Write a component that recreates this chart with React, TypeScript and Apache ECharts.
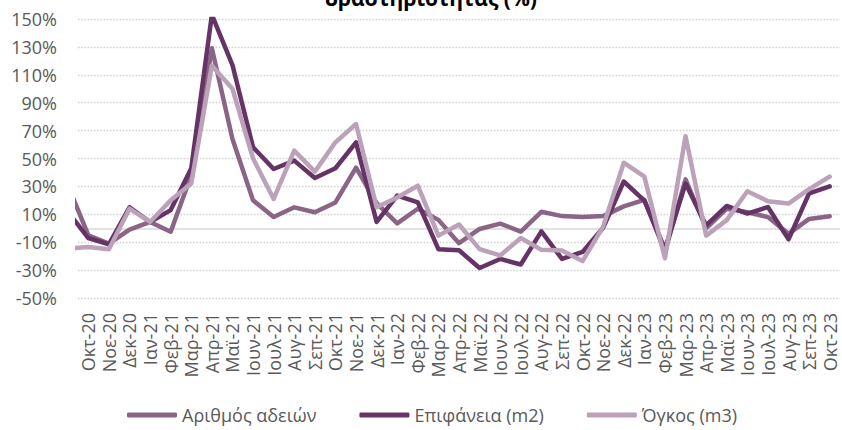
import React, { useEffect, useRef } from "react";
import * as echarts from "echarts";

// First entry (Σεπ-20) lies just left of the plot area and is only visible as the clipped segment.
const categories = [
  "Σεπ-20",
  "Οκτ-20", "Νοε-20", "Δεκ-20", "Ιαν-21", "Φεβ-21", "Μαρ-21", "Απρ-21", "Μαϊ-21", "Ιουν-21",
  "Ιουλ-21", "Αυγ-21", "Σεπ-21", "Οκτ-21", "Νοε-21", "Δεκ-21", "Ιαν-22", "Φεβ-22", "Μαρ-22",
  "Απρ-22", "Μαϊ-22", "Ιουν-22", "Ιουλ-22", "Αυγ-22", "Σεπ-22", "Οκτ-22", "Νοε-22", "Δεκ-22",
  "Ιαν-23", "Φεβ-23", "Μαρ-23", "Απρ-23", "Μαϊ-23", "Ιουν-23", "Ιουλ-23", "Αυγ-23", "Σεπ-23", "Οκτ-23",
];

const permits = [
  31,
  -5, -11, -1, 4.5, -2.5, 38, 129, 64, 20,
  8, 15, 11.5, 18.5, 43.5, 18, 3.5, 14, 6,
  -10.7, -0.5, 3.3, -2.4, 11.8, 8.7, 8, 8.7, 15.7,
  20.4, -17, 35, 0, 14, 11.5, 8, -4, 6.7, 8.6,
];

const area = [
  12,
  -7, -11.5, 15, 4.5, 13, 43, 153, 117, 58,
  42.5, 48.5, 36, 43, 61.6, 4.5, 23.4, 18.6, -15,
  -15.8, -28.5, -22, -26, -2.2, -22, -17, 0.3, 33.5,
  19.8, -15, 32, 2, 16, 10.5, 15.2, -8, 25, 30,
];

const volume = [
  -14.5,
  -13.5, -15, 14, 4.5, 20, 32, 116.5, 100, 50,
  21, 55.6, 40.6, 61.6, 74.7, 15, 22, 30.5, -5.3,
  2.7, -15, -19.5, -7, -15.5, -16, -23.5, 1.2, 47,
  37, -21.5, 66, -5.3, 5.8, 26.5, 19.4, 17.7, 28, 37,
];

const seriesNames = ["Αριθμός αδειών", "Επιφάνεια (m2)", "Όγκος (m3)"];
const colors = ["#8b6586", "#663366", "#bba2b9"];
const titleText = "δραστηριότητας (%)";

const FONT = "'Open Sans', 'Noto Sans', sans-serif";

export default function App() {
  const ref = useRef<HTMLDivElement>(null);

  useEffect(() => {
    if (!ref.current) return;
    const chart = echarts.init(ref.current, null, { renderer: "svg" });
    const mk = (name: string, data: number[], color: string, extra: any = {}) => ({
      name,
      type: "line",
      data,
      symbol: "none",
      showSymbol: false,
      clip: true,
      lineStyle: { color, width: 4.5, cap: "round", join: "round" },
      itemStyle: { color },
      ...extra,
    });
    chart.setOption({
      animation: false,
      backgroundColor: "#ffffff",
      textStyle: { fontFamily: FONT },
      grid: { left: 78, right: 2, top: 19, bottom: 132, containLabel: false },
      graphic: [
        {
          type: "text",
          x: 431,
          y: -2,
          style: {
            text: titleText,
            font: `bold 21px ${FONT}`,
            fill: "#000000",
            textAlign: "center",
            textVerticalAlign: "middle",
          },
        },
      ],
      legend: {
        data: seriesNames.map((n) => ({ name: n, icon: "roundRect" })),
        left: 122,
        top: 401,
        itemWidth: 50,
        itemHeight: 5,
        itemGap: 43,
        textStyle: { color: "#595959", fontSize: 18, fontFamily: FONT },
      },
      xAxis: {
        type: "category",
        data: categories,
        boundaryGap: true,
        min: 1,
        max: categories.length - 1,
        axisLine: { show: false },
        axisTick: { show: false },
        splitLine: { show: false },
        axisLabel: {
          interval: 0,
          rotate: 90,
          margin: 15,
          color: "#595959",
          fontSize: 18,
          fontFamily: FONT,
        },
      },
      yAxis: {
        type: "value",
        min: -50,
        max: 150,
        interval: 20,
        axisLine: { show: false },
        axisTick: { show: false },
        axisLabel: {
          formatter: "{value}%",
          margin: 21,
          color: "#595959",
          fontSize: 18,
          fontFamily: FONT,
        },
        splitLine: {
          show: true,
          lineStyle: { color: "#cfcfcf", width: 1.3, type: [1.5, 1.7] },
        },
      },
      series: [
        mk(seriesNames[0], permits, colors[0], {
          markLine: {
            silent: true,
            z: 1,
            symbol: "none",
            label: { show: false },
            lineStyle: { color: "#d9d9d9", type: "solid", width: 1.5 },
            data: [{ yAxis: 0 }],
          },
        }),
        mk(seriesNames[1], area, colors[1]),
        mk(seriesNames[2], volume, colors[2]),
      ],
    });
    return () => chart.dispose();
  }, []);

  return (
    <div
      ref={ref}
      style={{ position: "fixed", left: 0, top: 0, width: 842, height: 430, background: "#fff" }}
    />
  );
}
